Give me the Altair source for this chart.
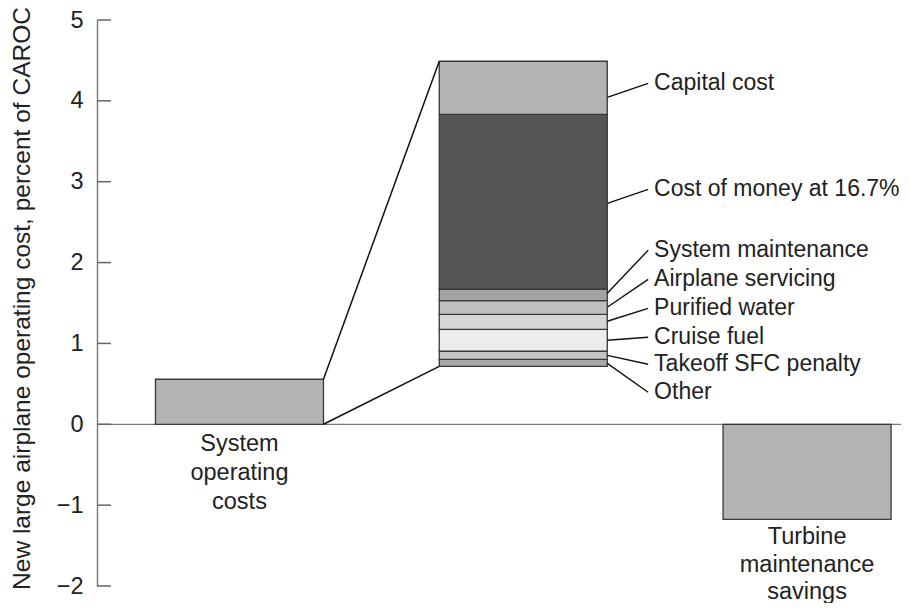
import altair as alt
import pandas as pd

# ---------------- data ----------------
side_names = ["System\noperating\ncosts", "Turbine\nmaintenance\nsavings"]
side_pos = [0, 2]
side_values = [0.557, -1.175]

stack_base = 0.717
seg_names = ["Other", "Takeoff SFC penalty", "Cruise fuel", "Purified water",
             "Airplane servicing", "System maintenance", "Cost of money at 16.7%",
             "Capital cost"]
seg_heights = [0.087, 0.099, 0.272, 0.185, 0.170, 0.140, 2.164, 0.656]
seg_colors = ["#a9a9a9", "#c4c4c4", "#ececec", "#d6d6d6",
              "#c0c0c0", "#a3a3a3", "#555555", "#b3b3b3"]
leader_start = [0.754, 0.853, 1.039, 1.274, 1.447, 1.620, 2.733, 4.044]
label_y = [0.396, 0.742, 1.076, 1.434, 1.793, 2.152, 2.906, 4.217]

y_ticks = [-2, -1, 0, 1, 2, 3, 4, 5]
y_title = "New large airplane operating cost, percent of CAROC"

# ---------------- layout ----------------
W, H = 804, 566
HALF = 0.296
LEAD = 0.144
GAP = 0.021
FONT = "Liberation Sans"
TXT = "#222222"

xscale = alt.Scale(domain=[-0.502, 2.331], nice=False, zero=False)
yscale = alt.Scale(domain=[-2, 5], nice=False, zero=False)

# bars table
rows = []
for n, p, v in zip(side_names, side_pos, side_values):
    rows.append(dict(name=n, xl=p - HALF, xr=p + HALF, lo=min(0, v), hi=max(0, v), color="#b3b3b3"))
cum = stack_base
for n, h, c in zip(seg_names, seg_heights, seg_colors):
    rows.append(dict(name=n, xl=1 - HALF, xr=1 + HALF, lo=cum, hi=cum + h, color=c))
    cum += h
stack_top = cum
bars_df = pd.DataFrame(rows)

connect_df = pd.DataFrame(dict(
    x=[side_pos[0] + HALF, side_pos[0] + HALF],
    y=[side_values[0], 0],
    x2=[1 - HALF, 1 - HALF],
    y2=[stack_top, stack_base],
))

leader_df = pd.DataFrame(dict(
    x=[1 + HALF] * len(seg_names),
    x2=[1 + HALF + LEAD] * len(seg_names),
    y=leader_start,
    y2=label_y,
))

labels_df = pd.DataFrame(dict(
    x=[1 + HALF + LEAD + GAP] * len(seg_names),
    y=label_y,
    text=seg_names,
))

pos_df = pd.DataFrame(dict(
    x=[p for p, v in zip(side_pos, side_values) if v > 0],
    y=[0 for v in side_values if v > 0],
    text=[n for n, v in zip(side_names, side_values) if v > 0],
))
neg_df = pd.DataFrame(dict(
    x=[p for p, v in zip(side_pos, side_values) if v < 0],
    y=[v for v in side_values if v < 0],
    text=[n for n, v in zip(side_names, side_values) if v < 0],
))

ticks_df = pd.DataFrame(dict(y=y_ticks))
zero_df = pd.DataFrame(dict(y=[0]))

yaxis = alt.Axis(values=y_ticks, format="d", tickSize=0, labelPadding=14, labelFontSize=23.5,
                 labelFont=FONT, labelColor=TXT, domainColor="#808080", domainWidth=1.5,
                 grid=False, title=y_title, titleFont=FONT, titleFontSize=24.5,
                 titleFontWeight="normal", titleColor=TXT, titleX=-75, titleY=278,
                 titleBaseline="middle", titleAngle=270)

zero = alt.Chart(zero_df).mark_rule(color="#777777", strokeWidth=1.3).encode(
    y=alt.Y("y:Q", scale=yscale, axis=yaxis), x=alt.value(0), x2=alt.value(W))

ticks = alt.Chart(ticks_df).mark_rule(color="#666666", strokeWidth=1.5).encode(
    y=alt.Y("y:Q", scale=yscale), x=alt.value(0), x2=alt.value(14))

bars = alt.Chart(bars_df).mark_rect(stroke="#383838", strokeWidth=1.3).encode(
    x=alt.X("xl:Q", scale=xscale, axis=None), x2="xr:Q",
    y=alt.Y("lo:Q", scale=yscale), y2="hi:Q",
    color=alt.Color("color:N", scale=None))

connect = alt.Chart(connect_df).mark_rule(color="#111111", strokeWidth=1.5).encode(
    x=alt.X("x:Q", scale=xscale), x2="x2:Q",
    y=alt.Y("y:Q", scale=yscale), y2="y2:Q")

leaders = alt.Chart(leader_df).mark_rule(color="#111111", strokeWidth=1.4).encode(
    x=alt.X("x:Q", scale=xscale), x2="x2:Q",
    y=alt.Y("y:Q", scale=yscale), y2="y2:Q")

labels = alt.Chart(labels_df).mark_text(align="left", baseline="middle", font=FONT,
                                        fontSize=23, color=TXT).encode(
    x=alt.X("x:Q", scale=xscale), y=alt.Y("y:Q", scale=yscale), text="text:N")

cats_pos = alt.Chart(pos_df).mark_text(align="center", baseline="top", font=FONT,
                                       fontSize=23.5, color=TXT, lineBreak="\n",
                                       lineHeight=29, dy=8).encode(
    x=alt.X("x:Q", scale=xscale), y=alt.Y("y:Q", scale=yscale), text="text:N")

cats_neg = alt.Chart(neg_df).mark_text(align="center", baseline="top", font=FONT,
                                       fontSize=23.5, color=TXT, lineBreak="\n",
                                       lineHeight=27.5, dy=6).encode(
    x=alt.X("x:Q", scale=xscale), y=alt.Y("y:Q", scale=yscale), text="text:N")

chart = alt.layer(zero, bars, ticks, connect, leaders, labels, cats_pos, cats_neg).properties(
    width=W, height=H,
    autosize=alt.AutoSizeParams(type="none"),
    padding={"left": 89, "top": 12, "right": 0, "bottom": 17},
    background="white",
).configure_view(stroke=None)

chart.save("out.html", embed_options={"renderer": "svg", "actions": False})
